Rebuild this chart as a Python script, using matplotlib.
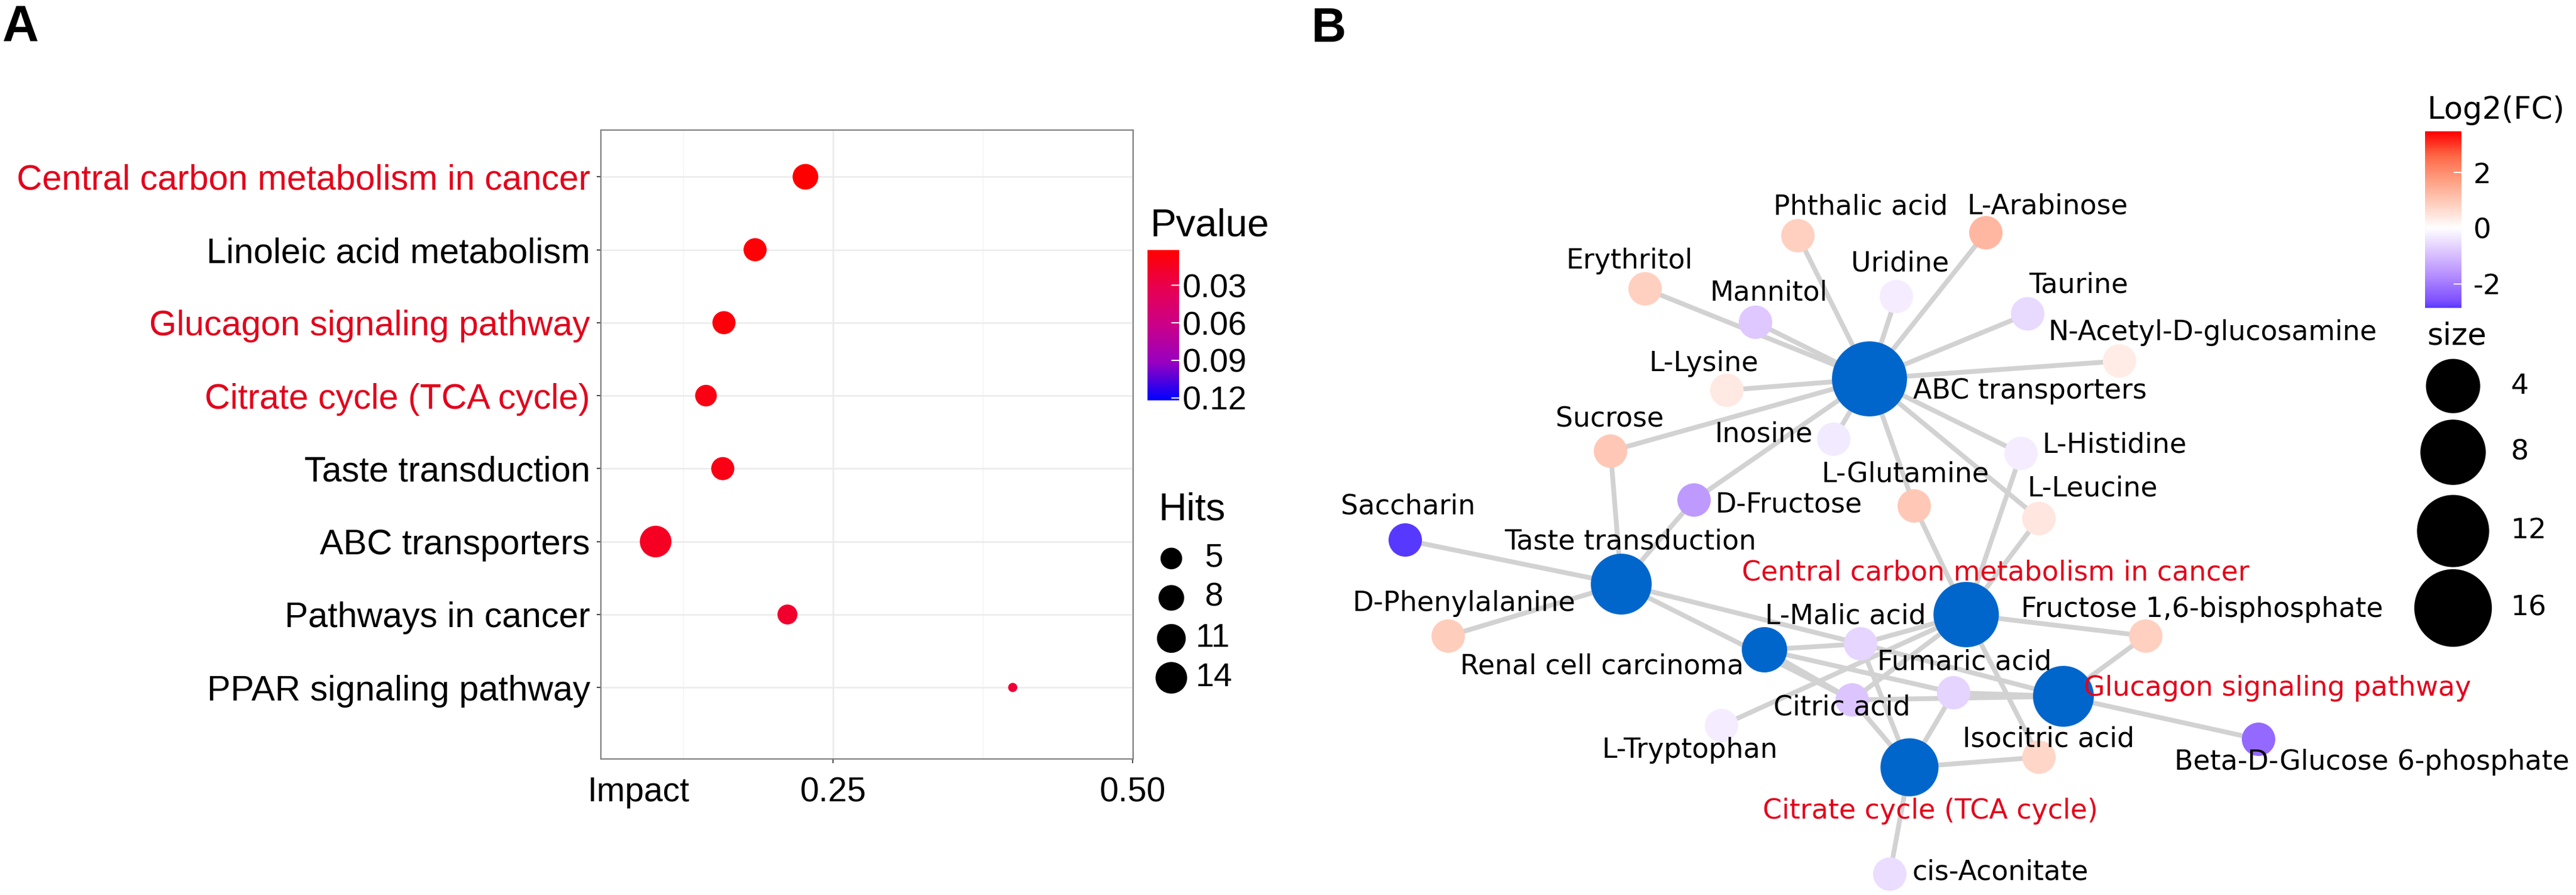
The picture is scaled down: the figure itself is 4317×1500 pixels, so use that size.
import numpy as np
import matplotlib
matplotlib.use("Agg")
import matplotlib.pyplot as plt
from matplotlib.colors import LinearSegmentedColormap, Normalize
from matplotlib.cm import ScalarMappable
import matplotlib.transforms as mtrans

# ---------------- panel A data ----------------
pathways = ["Central carbon metabolism in cancer", "Linoleic acid metabolism",
            "Glucagon signaling pathway", "Citrate cycle (TCA cycle)",
            "Taste transduction", "ABC transporters", "Pathways in cancer",
            "PPAR signaling pathway"]
impact = [0.227, 0.185, 0.159, 0.144, 0.158, 0.102, 0.212, 0.400]
hits = [8, 6, 6, 5, 6, 14, 4, 1]
pvalue = [0.0018, 0.004, 0.006, 0.009, 0.010, 0.015, 0.019, 0.023]
in_network = [True, False, True, True, False, False, False, False]
p_limits = (0.0018, 0.122)
p_breaks = [0.03, 0.06, 0.09, 0.12]
hit_breaks = [5, 8, 11, 14]
x_breaks = [0.25, 0.50]

# ---------------- panel B data ----------------
hubs = ["ABC transporters", "Central carbon metabolism in cancer", "Taste transduction",
        "Glucagon signaling pathway", "Citrate cycle (TCA cycle)", "Renal cell carcinoma"]
hub_size = [14, 8, 6, 6, 5, 3]
hub_red = [False, True, False, True, True, False]
# graph layout coordinates
hub_x = [3133, 3295, 2717, 3458, 3200, 2957]
hub_y = [635, 1030, 979, 1167, 1286, 1089]
hub_lab_x = [3402, 3344, 2732, 3817, 3235, 2685]
hub_lab_y = [656, 960, 908, 1153, 1360, 1117]

metabolites = ["Phthalic acid", "L-Arabinose", "Erythritol", "Uridine", "Mannitol", "Taurine",
               "N-Acetyl-D-glucosamine", "L-Lysine", "Sucrose", "Inosine", "L-Histidine",
               "L-Glutamine", "L-Leucine", "D-Fructose", "Saccharin", "D-Phenylalanine",
               "L-Malic acid", "Fumaric acid", "Citric acid", "L-Tryptophan",
               "Fructose 1,6-bisphosphate", "Beta-D-Glucose 6-phosphate", "Isocitric acid",
               "cis-Aconitate"]
log2fc = [0.87, 1.3, 0.87, -0.25, -0.8, -0.55, 0.35, 0.4, 1.0, -0.3, -0.25, 1.0, 0.45, -1.5,
          -2.87, 0.9, -0.6, -0.65, -0.85, -0.25, 0.87, -2.26, 0.75, -0.5]
met_x = [3013, 3328, 2757, 3178, 2942, 3398, 3552, 2894, 2699, 3073, 3387, 3208, 3417, 2839,
         2355, 2427, 3118, 3274, 3104, 2885, 3596, 3785, 3417, 3167]
met_y = [395, 390, 484, 497, 540, 526, 605, 654, 756, 736, 760, 848, 869, 838,
         905, 1066, 1079, 1161, 1173, 1216, 1066, 1239, 1269, 1465]
met_lab_x = [3118, 3431, 2731, 3184, 2964, 3483, 3708, 2855, 2698, 2956, 3544, 3193, 3507, 2998,
             2360, 2453, 3093, 3292, 3087, 2832, 3690, 3975, 3433, 3352]
met_lab_y = [347, 346, 437, 442, 491, 478, 557, 609, 703, 728, 746, 795, 819, 846,
             849, 1011, 1033, 1110, 1186, 1258, 1022, 1277, 1239, 1462]

links = {
    "ABC transporters": ["Phthalic acid", "L-Arabinose", "Erythritol", "Uridine", "Mannitol",
                         "Taurine", "N-Acetyl-D-glucosamine", "L-Lysine", "Sucrose", "Inosine",
                         "L-Histidine", "L-Glutamine", "L-Leucine", "D-Fructose"],
    "Central carbon metabolism in cancer": ["L-Glutamine", "L-Histidine", "L-Leucine",
                                            "Fructose 1,6-bisphosphate", "L-Malic acid",
                                            "Citric acid", "L-Tryptophan", "Isocitric acid"],
    "Taste transduction": ["Saccharin", "Sucrose", "D-Fructose", "D-Phenylalanine",
                           "L-Malic acid", "Citric acid"],
    "Glucagon signaling pathway": ["Fructose 1,6-bisphosphate", "Beta-D-Glucose 6-phosphate",
                                   "Fumaric acid", "Citric acid", "L-Malic acid"],
    "Citrate cycle (TCA cycle)": ["cis-Aconitate", "Isocitric acid", "Citric acid",
                                  "Fumaric acid", "L-Malic acid"],
    "Renal cell carcinoma": ["L-Malic acid", "Fumaric acid", "Citric acid"],
}
fc_limits = (-2.87, 3.49)
fc_breaks = [-2, 0, 2]
size_breaks = [4, 8, 12, 16]

RED = "#E3001B"
W, H = 4317, 1500
PX = 72 / 100.0  # points per pixel


def a_radius(h):
    return 7.7 + 18.8 * np.sqrt((np.asarray(h, float) - 1) / 13.0)


def b_radius(s):
    return 38 + 7.5 * np.sqrt(np.asarray(s, float) - 3)


def area(r):
    return (2 * r * PX) ** 2


p_cmap = LinearSegmentedColormap.from_list(
    "pv", [(0, "#FF0000"), (0.25, "#E80050"), (0.5, "#CA0088"), (0.75, "#9700C0"), (1, "#0000FF")])
fc_cmap = LinearSegmentedColormap.from_list(
    "fc", [(0, "#0000FF"), (0.125, "#7E51FF"), (0.25, "#B38BFF"), (0.375, "#DCC4FF"),
           (0.5, "#FFFFFF"), (0.625, "#FFCFBF"), (0.75, "#FF9E81"), (0.875, "#FF6846"),
           (1, "#FF0000")])
fc_max = max(abs(fc_limits[0]), abs(fc_limits[1]))
fc_norm = Normalize(-fc_max, fc_max)
p_norm = Normalize(*p_limits)

fig = plt.figure(figsize=(W / 100, H / 100), dpi=100)

# ---------------- panel A ----------------
AF = "Liberation Sans"
ax = fig.add_axes([1007 / W, 1 - 1272 / H, 892 / W, 1054 / H])
ypos = np.arange(len(pathways))[::-1] + 1
ax.scatter(impact, ypos, s=area(a_radius(hits)), c=pvalue, cmap=p_cmap, norm=p_norm,
           edgecolors="none", zorder=3)
ax.set_xlim(0.0563, 0.5005)
ax.set_ylim(0.02, 8.64)
ax.set_yticks(ypos)
ax.set_yticklabels(pathways, fontsize=42.5, family=AF)
for lab, red in zip(ax.get_yticklabels(), in_network):
    lab.set_color(RED if red else "black")
ax.set_xticks(x_breaks)
ax.set_xticklabels(["0.25", "0.50"], fontsize=41, family=AF)
ax.set_xticks([0.125, 0.375], minor=True)
ax.tick_params(axis="both", which="major", length=5, width=1.4, color="#444444")
ax.tick_params(axis="y", pad=8)
ax.tick_params(axis="x", pad=16)
ax.tick_params(axis="x", which="minor", length=0)
ax.grid(True, which="major", color="#EBEBEB", lw=1.8, zorder=0)
ax.grid(True, which="minor", axis="x", color="#F2F2F2", lw=1.0, zorder=0)
ax.set_axisbelow(True)
for sp in ax.spines.values():
    sp.set_color("#808080")
    sp.set_linewidth(1.6)
tr = mtrans.offset_copy(ax.get_xaxis_transform(), fig=fig, y=-21, units="points")
ax.text(0.088, 0, "Impact", transform=tr, ha="center", va="top", fontsize=41, family=AF)

# colour bar for panel A
cax = fig.add_axes([1923 / W, 1 - 671 / H, 53 / W, 252 / H])
cb = fig.colorbar(ScalarMappable(norm=p_norm, cmap=p_cmap), cax=cax)
cb.outline.set_visible(False)
cax.invert_yaxis()
cb.set_ticks(p_breaks)
cb.set_ticklabels([f"{v:.2f}" for v in p_breaks])
cax.tick_params(length=0, pad=4, labelsize=40)
for t in cax.get_yticklabels():
    t.set_family(AF)
for v in p_breaks:
    cax.plot([0.78, 1.0], [v, v], color="white", lw=1.5, transform=cax.get_yaxis_transform())

# ---------------- panel B (layout drawn in figure pixel space) ----------------
BF = "DejaVu Sans"
bx = fig.add_axes([0, 0, 1, 1], zorder=5)
bx.set_xlim(0, W)
bx.set_ylim(H, 0)
bx.axis("off")
bx.patch.set_visible(False)

mpos = {m: (x, y) for m, x, y in zip(metabolites, met_x, met_y)}
for hname, hx, hy in zip(hubs, hub_x, hub_y):
    for m in links[hname]:
        mx, my = mpos[m]
        bx.plot([hx, mx], [hy, my], color="#D2D2D2", lw=5.8, solid_capstyle="butt", zorder=1)

bx.scatter(met_x, met_y, s=area(28), c=log2fc, cmap=fc_cmap, norm=fc_norm,
           edgecolors="none", zorder=3)
bx.scatter(hub_x, hub_y, s=area(b_radius(hub_size)), color="#0066CC", edgecolors="none", zorder=3)

for name, x, y in zip(metabolites, met_lab_x, met_lab_y):
    bx.text(x, y, name, ha="center", va="center", fontsize=33, family=BF, zorder=4)
for name, x, y, red in zip(hubs, hub_lab_x, hub_lab_y, hub_red):
    bx.text(x, y, name, ha="center", va="center", fontsize=33, family=BF,
            color=RED if red else "black", zorder=4)

# panel A legend titles and size keys
bx.text(1928, 396, "Pvalue", fontsize=47, family=AF, ha="left", va="baseline")
bx.text(1942, 872, "Hits", fontsize=47, family=AF, ha="left", va="baseline")
hit_y = [936, 1002, 1070, 1136]
bx.scatter([1963] * len(hit_breaks), hit_y, s=area(a_radius(hit_breaks)), color="black",
           edgecolors="none")
for v, y in zip(hit_breaks, hit_y):
    lbl = " " + str(v) if v < 10 else str(v)
    bx.text(2004, y, lbl, fontsize=40, family=AF, ha="left", va="center")

# panel B legend
bcax = fig.add_axes([4064 / W, 1 - 516 / H, 61 / W, 296 / H])
bcb = fig.colorbar(ScalarMappable(norm=fc_norm, cmap=fc_cmap), cax=bcax,
                   boundaries=np.linspace(fc_limits[0], fc_limits[1], 300))
bcb.outline.set_visible(False)
bcb.set_ticks(fc_breaks)
bcb.set_ticklabels([str(v) for v in fc_breaks])
bcax.tick_params(length=0, pad=14, labelsize=34)
for t in bcax.get_yticklabels():
    t.set_family(BF)
for v in fc_breaks:
    bcax.plot([0.8, 1.0], [v, v], color="white", lw=1.5, transform=bcax.get_yaxis_transform())

bx.text(4068, 199, "Log2(FC)", fontsize=37, family=BF, ha="left", va="baseline")
bx.text(4067, 578, "size", fontsize=37, family=BF, ha="left", va="baseline")
size_y = [647, 758, 890, 1019]
bx.scatter([4111] * len(size_breaks), size_y, s=area(b_radius(size_breaks)), color="black",
           edgecolors="none")
for v, y in zip(size_breaks, size_y):
    bx.text(4208, y, str(v), fontsize=34, family=BF, ha="left", va="center")

# panel tags
bx.text(4, 69, "A", fontsize=61, fontweight="bold", family=AF, ha="left", va="baseline")
bx.text(2198, 70, "B", fontsize=58, fontweight="bold", family=AF, ha="left", va="baseline")

fig.savefig("out.png", dpi=100)
